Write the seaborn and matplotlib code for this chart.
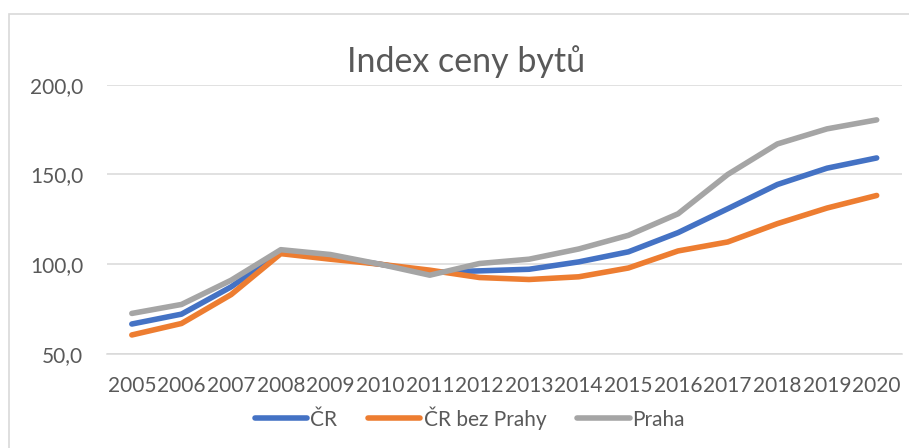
import matplotlib
matplotlib.use("Agg")
import matplotlib.pyplot as plt
from matplotlib.patches import Rectangle
from matplotlib.ticker import FuncFormatter
import seaborn as sns
import pandas as pd

roky = list(range(2005, 2021))
cr = [66.7, 72.2, 87.4, 106.9, 104.0, 100.0, 95.5, 96.3, 97.2, 101.3, 106.9, 117.6, 130.9, 144.4, 153.5, 159.2]
cr_bez_prahy = [60.6, 67.0, 83.1, 105.9, 102.8, 100.0, 96.7, 92.6, 91.5, 93.0, 97.9, 107.4, 112.4, 122.6, 131.3, 138.3]
praha = [72.6, 77.6, 91.1, 108.1, 105.4, 100.0, 93.9, 100.4, 102.8, 108.5, 116.1, 128.1, 150.0, 167.0, 175.4, 180.4]

nazvy = ["ČR", "ČR bez Prahy", "Praha"]
barvy = ["#4472C4", "#ED7D31", "#A5A5A5"]

df = pd.DataFrame({
    "rok": roky * 3,
    "index": cr + cr_bez_prahy + praha,
    "rada": [nazvy[0]] * 16 + [nazvy[1]] * 16 + [nazvy[2]] * 16,
})

sns.set_style("white")
plt.rcParams["font.family"] = ["Lato", "DejaVu Sans"]
text_col = "#595959"
grid_col = "#D9D9D9"

fig = plt.figure(figsize=(9.09, 4.48), dpi=100)
ax = fig.add_axes([107 / 909, 1 - 354 / 448, (901.5 - 107) / 909, (354 - 84.7) / 448])

sns.lineplot(data=df, x="rok", y="index", hue="rada", palette=barvy,
             linewidth=4, ax=ax, legend=False, solid_capstyle="round")

ax.set_xlim(2004.5, 2020.5)
ax.set_ylim(50, 200)
ax.set_yticks([50, 100, 150, 200])
ax.set_xticks(roky)
ax.yaxis.set_major_formatter(FuncFormatter(lambda v, p: f"{v:.1f}".replace(".", ",")))
ax.tick_params(axis="both", length=0, labelsize=15, colors=text_col)
ax.tick_params(axis="y", pad=17)
ax.tick_params(axis="x", pad=16)
ax.set_xlabel("")
ax.set_ylabel("")
ax.grid(axis="y", color=grid_col, linewidth=1.1)
ax.set_axisbelow(True)
for s in ["top", "right", "left"]:
    ax.spines[s].set_visible(False)
ax.spines["bottom"].set_color(grid_col)
ax.spines["bottom"].set_linewidth(1.1)

fig.text(466 / 909, 1 - 72 / 448, "Index ceny bytů", ha="center", va="baseline",
         fontsize=24.5, color=text_col)

handles = [plt.Line2D([], [], color=c, linewidth=4, solid_capstyle="round") for c in barvy]
leg = fig.legend(handles, nazvy, loc="center", bbox_to_anchor=(470 / 909, 1 - 418 / 448),
                 ncol=3, frameon=False, fontsize=15, handlelength=2.5,
                 handletextpad=0.15, columnspacing=1.5, labelcolor=text_col)

fig.add_artist(Rectangle((9 / 909, -0.1), 1.2, 1 - 14 / 448 + 0.1, transform=fig.transFigure,
                         fill=False, edgecolor=grid_col, linewidth=1.2))

fig.savefig("out.png", dpi=100)
